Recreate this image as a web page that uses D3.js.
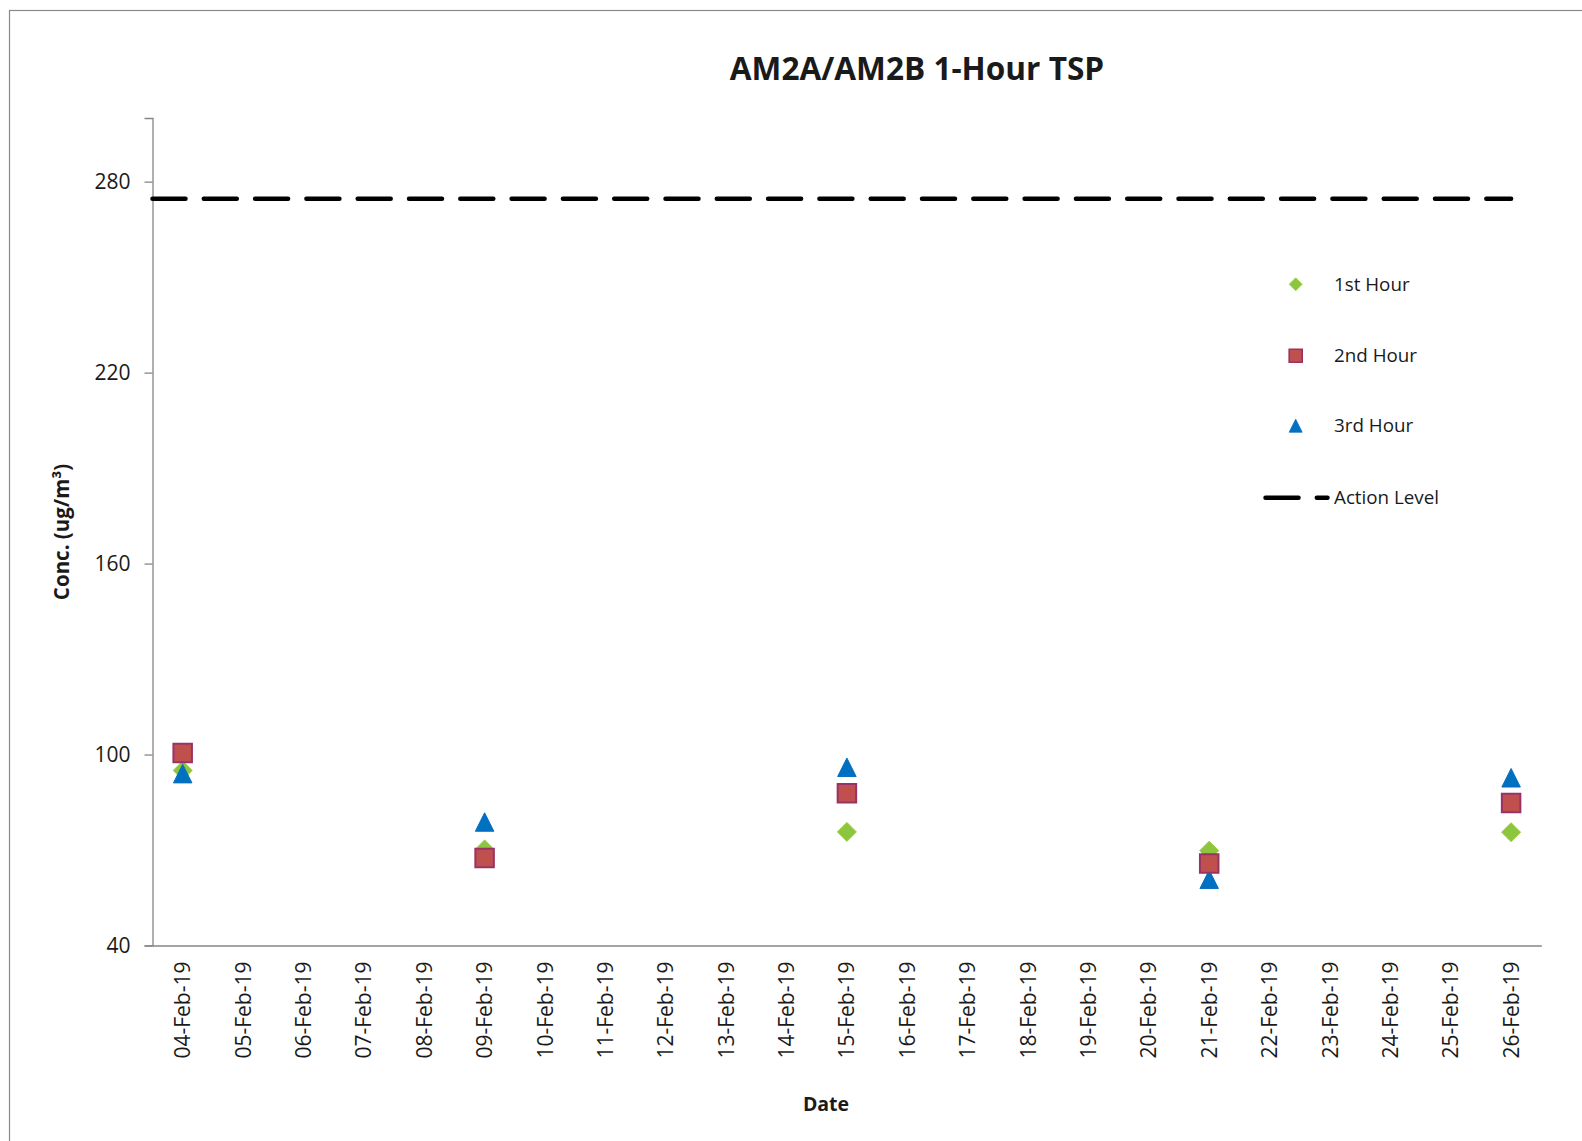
<!DOCTYPE html>
<html>
<head>
<meta charset="utf-8">
<script src="https://cdn.jsdelivr.net/npm/d3@7"></script>
<style>
  html, body { margin: 0; padding: 0; background: #fff; }
  svg { display: block; }
  text { font-family: "Open Sans", "Liberation Sans", sans-serif; fill: #1a1a1a; }
</style>
</head>
<body>
<svg id="chart" width="1582" height="1141"></svg>
<script>
// ---- data ----
const dates = ["04-Feb-19","05-Feb-19","06-Feb-19","07-Feb-19","08-Feb-19","09-Feb-19","10-Feb-19",
  "11-Feb-19","12-Feb-19","13-Feb-19","14-Feb-19","15-Feb-19","16-Feb-19","17-Feb-19","18-Feb-19",
  "19-Feb-19","20-Feb-19","21-Feb-19","22-Feb-19","23-Feb-19","24-Feb-19","25-Feb-19","26-Feb-19"];
const sampleDates = ["04-Feb-19","09-Feb-19","15-Feb-19","21-Feb-19","26-Feb-19"];
const hour1 = [95.0, 70.2, 75.7, 69.8, 75.6];
const hour2 = [100.5, 67.5, 87.8, 65.8, 84.8];
const hour3 = [94.0, 78.8, 96.0, 60.8, 92.7];
const actionLevel = 274.6;
const yTicks = [40, 100, 160, 220, 280];
const yDomain = [40, 300];
const seriesNames = ["1st Hour", "2nd Hour", "3rd Hour", "Action Level"];

// ---- layout ----
const svg = d3.select("#chart");
const pLeft = 152.5, pRight = 1541.3, pTop = 118, pBottom = 945.5;

const x = d3.scaleBand().domain(dates).range([pLeft, pRight]).padding(0);
const y = d3.scaleLinear().domain(yDomain).range([pBottom, pTop]);
const cx = d => x(d) + x.bandwidth() / 2;

// outer border
svg.append("rect").attr("x", 9.5).attr("y", 10.5).attr("width", 1600).attr("height", 1200)
  .attr("fill", "none").attr("stroke", "#8a8a8a").attr("stroke-width", 1.2);

// title
svg.append("text").attr("x", 917).attr("y", 80).attr("text-anchor", "middle")
  .attr("font-size", 31.6).attr("font-weight", "bold").text("AM2A/AM2B 1-Hour TSP");

// y axis
const yAxis = d3.axisLeft(y).tickValues(yTicks).tickSize(8).tickPadding(14).tickFormat(d3.format("d"));
const gy = svg.append("g").attr("transform", `translate(${pLeft},0)`).call(yAxis);
gy.select(".domain").attr("stroke", "#868686").attr("stroke-width", 1.3);
gy.selectAll(".tick line").attr("stroke", "#868686").attr("stroke-width", 1.3);
gy.selectAll(".tick text").attr("font-size", 21).attr("font-family", "Open Sans").attr("fill", "#1a1a1a");

// x axis
const xAxis = d3.axisBottom(x).tickSize(0).tickPadding(0);
const gx = svg.append("g").attr("transform", `translate(0,${pBottom})`).call(xAxis);
gx.select(".domain").attr("stroke", "#868686").attr("stroke-width", 1.3);
gx.selectAll(".tick text")
  .attr("font-size", 21).attr("font-family", "Open Sans").attr("fill", "#1a1a1a")
  .attr("text-anchor", "end").attr("transform", "translate(0,16) rotate(-90)")
  .attr("x", 0).attr("y", 0).attr("dy", "0.36em");

// axis titles
svg.append("text").attr("x", 826).attr("y", 1111).attr("text-anchor", "middle")
  .attr("font-size", 19.5).attr("font-weight", "bold").text("Date");
svg.append("text").attr("transform", "translate(69,532) rotate(-90)").attr("text-anchor", "middle")
  .attr("font-size", 20.5).attr("font-weight", "bold").text("Conc. (ug/m³)");

// action level line
const dash = "33,18.3";
svg.append("line")
  .attr("x1", pLeft).attr("x2", cx(dates[dates.length - 1]))
  .attr("y1", y(actionLevel)).attr("y2", y(actionLevel))
  .attr("stroke", "#000").attr("stroke-width", 4.5).attr("stroke-dasharray", dash)
  .attr("stroke-linecap", "round");

// markers
const diamond = s => `M0,${-s/2}L${s/2},0L0,${s/2}L${-s/2},0Z`;
const square = s => `M${-s/2},${-s/2}h${s}v${s}h${-s}Z`;
const triangle = s => `M0,${-s/2}L${s/2},${s/2}L${-s/2},${s/2}Z`;

const styles = {
  h1: { path: diamond, size: 19, fill: "#8cc63f", stroke: "#9ccf3c", sw: 1 },
  h2: { path: square, size: 18.5, fill: "#c0504d", stroke: "#993366", sw: 2 },
  h3: { path: triangle, size: 18.5, fill: "#0070c0", stroke: "#0a6fc0", sw: 1 }
};

function drawSeries(vals, st) {
  svg.append("g").selectAll("path").data(vals).join("path")
    .attr("transform", (v, i) => `translate(${cx(sampleDates[i])},${y(v)})`)
    .attr("d", st.path(st.size))
    .attr("fill", st.fill).attr("stroke", st.stroke).attr("stroke-width", st.sw);
}
drawSeries(hour1, styles.h1);
drawSeries(hour3, styles.h3);
drawSeries(hour2, styles.h2);

// legend
const lgX = 1295.7, lgText = 1334;
const legendRows = [
  { name: seriesNames[0], y: 284.3, st: styles.h1 },
  { name: seriesNames[1], y: 355.7, st: styles.h2 },
  { name: seriesNames[2], y: 425.7, st: styles.h3 }
];
legendRows.forEach(r => {
  svg.append("path").attr("transform", `translate(${lgX},${r.y})`)
    .attr("d", r.st.path(13)).attr("fill", r.st.fill).attr("stroke", r.st.stroke)
    .attr("stroke-width", r.st.sw * 0.8);
  svg.append("text").attr("x", lgText).attr("y", r.y).attr("dy", "0.35em")
    .attr("font-size", 18.8).text(r.name);
});
svg.append("line").attr("x1", 1265.5).attr("x2", 1327.5).attr("y1", 497.7).attr("y2", 497.7)
  .attr("stroke", "#000").attr("stroke-width", 4.5).attr("stroke-dasharray", dash)
  .attr("stroke-linecap", "round");
svg.append("text").attr("x", lgText).attr("y", 497.7).attr("dy", "0.35em")
  .attr("font-size", 18.8).text(seriesNames[3]);
</script>
</body>
</html>
